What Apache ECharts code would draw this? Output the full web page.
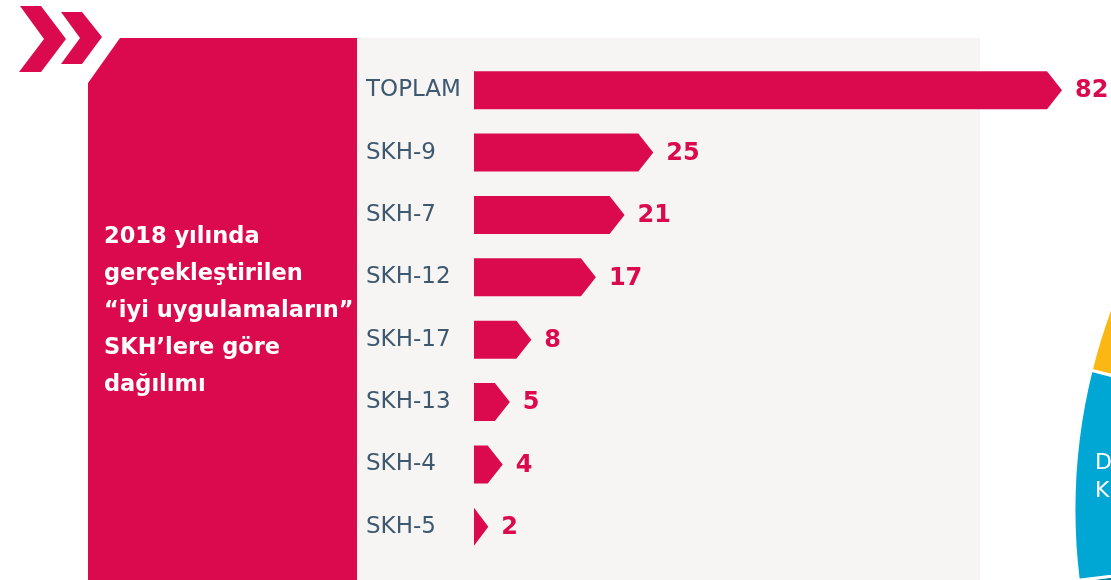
<!DOCTYPE html>
<html>
<head>
<meta charset="utf-8">
<script src="https://cdn.jsdelivr.net/npm/echarts@6/dist/echarts.min.js"></script>
<style>
  html, body { margin: 0; padding: 0; background: #fff; }
  #chart { width: 1111px; height: 580px; }
</style>
</head>
<body>
<div id="chart"></div>
<script>
// categories and counts of "iyi uygulama" per SKH, 2018
const categories = ['TOPLAM', 'SKH-9', 'SKH-7', 'SKH-12', 'SKH-17', 'SKH-13', 'SKH-4', 'SKH-5'];
const counts = [82, 25, 21, 17, 8, 5, 4, 2];

const titleLines = ['2018 yılında', 'gerçekleştirilen', '“iyi uygulamaların”', 'SKH’lere göre', 'dağılımı'];

// cropped neighbour pie on the right edge (estimated slice sizes)
const pieValues = [40, 60, 80, 100, 59, 21];
const pieColors = ['#fbb814', '#f59a23', '#4c9f38', '#0a6f8c', '#0b7d94', '#00a6d4'];

const RED = '#db0a4e';
const chart = echarts.init(document.getElementById('chart'));

const BAR_H = 38;
const TIP = 15;

chart.setOption({
  backgroundColor: '#fff',
  animation: false,
  grid: { left: 474, right: 49, top: 59, bottom: 22 },
  xAxis: { type: 'value', min: 0, max: 82, show: false },
  yAxis: {
    type: 'category',
    data: categories,
    inverse: true,
    axisLine: { show: false },
    axisTick: { show: false },
    axisLabel: {
      align: 'left',
      margin: 108,
      color: '#3e5870',
      fontSize: 23,
      fontFamily: 'DejaVu Sans'
    }
  },
  graphic: [
    // chevrons top-left
    { type: 'polygon', shape: { points: [[20, 6], [41, 6], [66, 39], [41, 72], [19, 72], [44, 39]] }, style: { fill: RED } },
    { type: 'polygon', shape: { points: [[61, 12], [82, 12], [102, 37], [82, 64], [61, 64], [80, 38]] }, style: { fill: RED } },
    // red title panel with cut corner
    { type: 'polygon', shape: { points: [[120, 38], [357, 38], [357, 580], [88, 580], [88, 83]] }, style: { fill: RED }, z: -10 },
    // light panel behind bars
    { type: 'rect', shape: { x: 357, y: 38, width: 623, height: 542 }, style: { fill: '#f6f5f3' }, z: -10 },
    {
      type: 'text', left: 104, top: 219,
      style: {
        text: titleLines.join('\n'),
        fill: '#fff',
        font: 'bold 22.5px "DejaVu Sans"',
        lineHeight: 37
      }
    },
    {
      type: 'text', left: 1095, top: 449, z: 100,
      style: { text: 'D\nK', fill: '#fff', font: '22px "DejaVu Sans"', lineHeight: 28 }
    }
  ],
  series: [
    {
      type: 'custom',
      data: counts.map((v, i) => [v, i]),
      encode: { x: 0, y: 1 },
      renderItem: function (params, api) {
        const v = api.value(0);
        const start = api.coord([0, api.value(1)]);
        const end = api.coord([v, api.value(1)]);
        const x0 = start[0], xe = end[0], y = start[1];
        const tip = Math.min(TIP, xe - x0);
        const h = BAR_H / 2;
        return {
          type: 'group',
          children: [
            {
              type: 'polygon',
              shape: { points: [[x0, y - h], [xe - tip, y - h], [xe, y], [xe - tip, y + h], [x0, y + h]] },
              style: { fill: RED }
            },
            {
              type: 'text',
              x: xe + 13, y: y + 1,
              style: {
                text: String(v),
                fill: RED,
                font: 'bold 24px "DejaVu Sans"',
                verticalAlign: 'middle',
                align: 'left'
              }
            }
          ]
        };
      }
    },
    {
      type: 'pie',
      center: [1651, 510],
      radius: 577,
      startAngle: 166,
      clockwise: true,
      silent: true,
      label: { show: false },
      labelLine: { show: false },
      itemStyle: { borderColor: '#fff', borderWidth: 3 },
      data: pieValues.map((v, i) => ({ value: v, itemStyle: { color: pieColors[i] } }))
    }
  ]
});
</script>
</body>
</html>
